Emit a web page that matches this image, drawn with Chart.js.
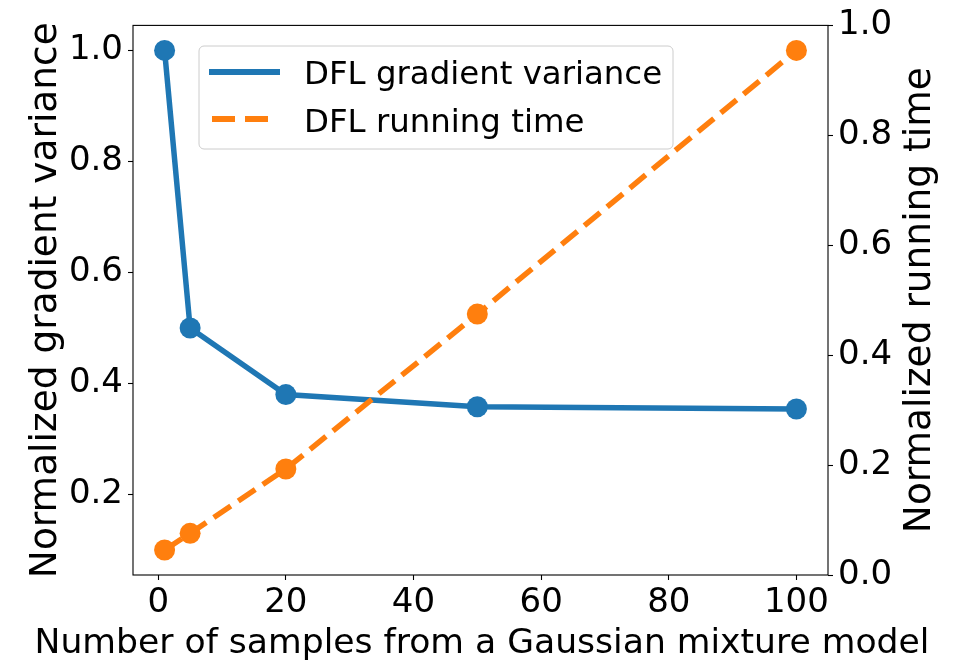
<!DOCTYPE html>
<html>
<head>
<meta charset="utf-8">
<script src="https://cdn.jsdelivr.net/npm/chart.js@4.4.0/dist/chart.umd.min.js"></script>
<style>
  html, body { margin: 0; padding: 0; background: #ffffff; }
  #wrap { width: 953px; height: 660px; }
</style>
</head>
<body>
<div id="wrap"><canvas id="c" width="953" height="660"></canvas></div>
<script>
// Number of Gaussian-mixture samples used per step
const sampleCounts = [1, 5, 20, 50, 100];
// Normalized gradient variance of DFL
const gradientVariance = [1.0, 0.5, 0.38, 0.358, 0.354];
// Normalized running time of DFL
const runningTime = [0.1, 0.13, 0.246, 0.525, 1.0];

const xTicks = [0, 20, 40, 60, 80, 100];
const leftTicks = [0.2, 0.4, 0.6, 0.8, 1.0];
const rightTicks = [0.0, 0.2, 0.4, 0.6, 0.8, 1.0];

const seriesNames = ['DFL gradient variance', 'DFL running time'];
const seriesColors = ['#1f77b4', '#ff7f0e'];
const xTitle = 'Number of samples from a Gaussian mixture model';
const leftTitle = 'Normalized gradient variance';
const rightTitle = 'Normalized running time';

const FONT = "'DejaVu Sans', 'Liberation Sans', sans-serif";
const DASH = [20.5, 9];

const toPoints = ys => sampleCounts.map((x, i) => ({ x: x, y: ys[i] }));
const fixedTicks = list => scale => { scale.ticks = list.map(v => ({ value: v })); };

const tickFont = { family: FONT, size: 34 };
const tickGrid = { display: true, drawOnChartArea: false, drawTicks: true, tickLength: 5, tickColor: '#000', tickWidth: 1.1 };

// Frame, axis titles and the in-plot legend
const decorations = {
  id: 'decorations',
  afterDraw(chart) {
    const ctx = chart.ctx;
    const a = chart.chartArea;
    ctx.save();

    // axes frame
    ctx.strokeStyle = '#000';
    ctx.lineWidth = 1.1;
    ctx.strokeRect(a.left, a.top, a.right - a.left, a.bottom - a.top);

    // axis titles
    ctx.fillStyle = '#000';
    ctx.textAlign = 'center';
    ctx.textBaseline = 'alphabetic';
    ctx.font = '34.6px ' + FONT;
    ctx.fillText(xTitle, (a.left + a.right) / 2 + 1.5, 653);

    const midY = (a.top + a.bottom) / 2;
    ctx.font = '37.5px ' + FONT;
    ctx.save();
    ctx.translate(56, midY);
    ctx.rotate(-Math.PI / 2);
    ctx.fillText(leftTitle, 0, 0);
    ctx.restore();
    ctx.save();
    ctx.translate(930, midY);
    ctx.rotate(-Math.PI / 2);
    ctx.fillText(rightTitle, 0, 0);
    ctx.restore();

    // legend
    const bx = 199, by = 46, bw = 474, bh = 103;
    ctx.beginPath();
    ctx.roundRect(bx, by, bw, bh, 5);
    ctx.fillStyle = 'rgba(255,255,255,0.8)';
    ctx.fill();
    ctx.strokeStyle = '#cccccc';
    ctx.lineWidth = 1;
    ctx.stroke();

    const rows = [
      { y: 72, base: 83.5, x0: 209, x1: 280, dash: [] },
      { y: 119, base: 131.7, x0: 212, x1: 268, dash: [23, 10] }
    ];
    ctx.font = '32.4px ' + FONT;
    ctx.textAlign = 'left';
    rows.forEach((r, i) => {
      ctx.beginPath();
      ctx.setLineDash(r.dash);
      ctx.lineCap = 'butt';
      ctx.strokeStyle = seriesColors[i];
      ctx.lineWidth = 5.8;
      ctx.moveTo(r.x0, r.y);
      ctx.lineTo(r.x1, r.y);
      ctx.stroke();
      ctx.setLineDash([]);
      ctx.fillStyle = '#000';
      ctx.fillText(seriesNames[i], 304, r.base);
    });

    ctx.restore();
  }
};

new Chart(document.getElementById('c'), {
  type: 'line',
  data: {
    datasets: [
      {
        label: seriesNames[0],
        data: toPoints(gradientVariance),
        yAxisID: 'y',
        borderColor: seriesColors[0],
        backgroundColor: seriesColors[0],
        borderWidth: 5.5,
        pointRadius: 10.5,
        pointBorderWidth: 0,
        pointBackgroundColor: seriesColors[0],
        tension: 0,
        order: 1
      },
      {
        label: seriesNames[1],
        data: toPoints(runningTime),
        yAxisID: 'y',
        borderColor: seriesColors[1],
        backgroundColor: seriesColors[1],
        borderWidth: 5.5,
        borderDash: DASH,
        borderCapStyle: 'butt',
        pointRadius: 10.5,
        pointBorderWidth: 0,
        pointBackgroundColor: seriesColors[1],
        tension: 0,
        order: 0
      }
    ]
  },
  options: {
    responsive: false,
    devicePixelRatio: 1,
    animation: false,
    layout: { padding: { top: 23, left: 0, right: 0, bottom: 0 } },
    plugins: { legend: { display: false }, tooltip: { enabled: false } },
    scales: {
      x: {
        type: 'linear',
        position: 'bottom',
        min: -3.95,
        max: 104.95,
        afterBuildTicks: fixedTicks(xTicks),
        afterFit: s => { s.height = 85; },
        grid: tickGrid,
        border: { display: false },
        ticks: { font: tickFont, color: '#000', padding: 3, maxRotation: 0, autoSkip: false, callback: v => String(v) }
      },
      y: {
        type: 'linear',
        position: 'left',
        min: 0.055,
        max: 1.045,
        afterBuildTicks: fixedTicks(leftTicks),
        afterFit: s => { s.width = 133; },
        grid: tickGrid,
        border: { display: false },
        ticks: { font: tickFont, color: '#000', padding: 5, autoSkip: false, callback: v => v.toFixed(1) }
      },
      y2: {
        type: 'linear',
        position: 'right',
        min: 0,
        max: 1,
        afterBuildTicks: fixedTicks(rightTicks),
        afterFit: s => { s.width = 125; },
        grid: tickGrid,
        border: { display: false },
        ticks: { font: tickFont, color: '#000', padding: 5, autoSkip: false, callback: v => v.toFixed(1) }
      }
    }
  },
  plugins: [decorations]
});
</script>
</body>
</html>
